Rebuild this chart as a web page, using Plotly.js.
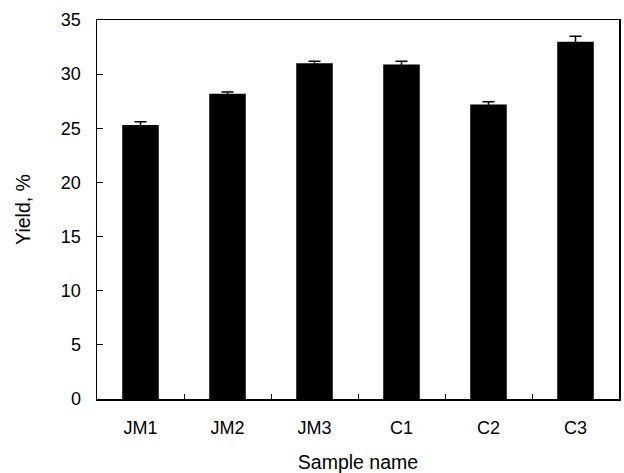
<!DOCTYPE html>
<html>
<head>
<meta charset="utf-8">
<script src="https://cdn.plot.ly/plotly-3.0.1.min.js"></script>
<style>html,body{margin:0;padding:0;background:#fff;}#chart{width:624px;height:473px;}</style>
</head>
<body>
<div id="chart"></div>
<script>
const categories = ["JM1", "JM2", "JM3", "C1", "C2", "C3"];
const yieldValues = [25.3, 28.2, 31.0, 30.9, 27.2, 33.0];
const yieldErrors = [0.3, 0.15, 0.2, 0.3, 0.25, 0.5];
const yTickValues = [0, 5, 10, 15, 20, 25, 30, 35];

const tickFont = {family: "Liberation Sans, Arial, sans-serif", color: "#000", size: 18};
const titleFont = {family: "Liberation Sans, Arial, sans-serif", color: "#000", size: 19.5};

Plotly.newPlot("chart", [{
  type: "bar",
  x: categories,
  y: yieldValues,
  marker: {color: "#000", line: {width: 0}},
  error_y: {type: "data", array: yieldErrors, visible: true, color: "#000", thickness: 1.5, width: 6},
  hoverinfo: "none"
}], {
  width: 624, height: 473,
  margin: {l: 97, r: 5, t: 20, b: 74},
  paper_bgcolor: "#fff", plot_bgcolor: "#fff",
  font: tickFont,
  bargap: 0.58,
  showlegend: false,
  xaxis: {
    type: "category",
    range: [-0.5, 5.5],
    showline: true, linecolor: "#000", linewidth: 1.5, mirror: true,
    ticks: "inside", tickson: "boundaries", ticklen: 5, tickcolor: "#000", tickwidth: 1,
    showgrid: false, zeroline: false,
    tickfont: tickFont, ticklabelstandoff: 12,
    title: {text: "Sample name", font: titleFont, standoff: 19}
  },
  yaxis: {
    range: [0, 35],
    tickvals: yTickValues,
    showline: true, linecolor: "#000", linewidth: 1.5, mirror: true,
    ticks: "inside", ticklen: 6, tickcolor: "#000", tickwidth: 1,
    showgrid: false, zeroline: false,
    tickfont: tickFont, ticklabelstandoff: 11,
    title: {text: "Yield, %", font: titleFont, standoff: 25}
  }
}, {staticPlot: true});
</script>
</body>
</html>
